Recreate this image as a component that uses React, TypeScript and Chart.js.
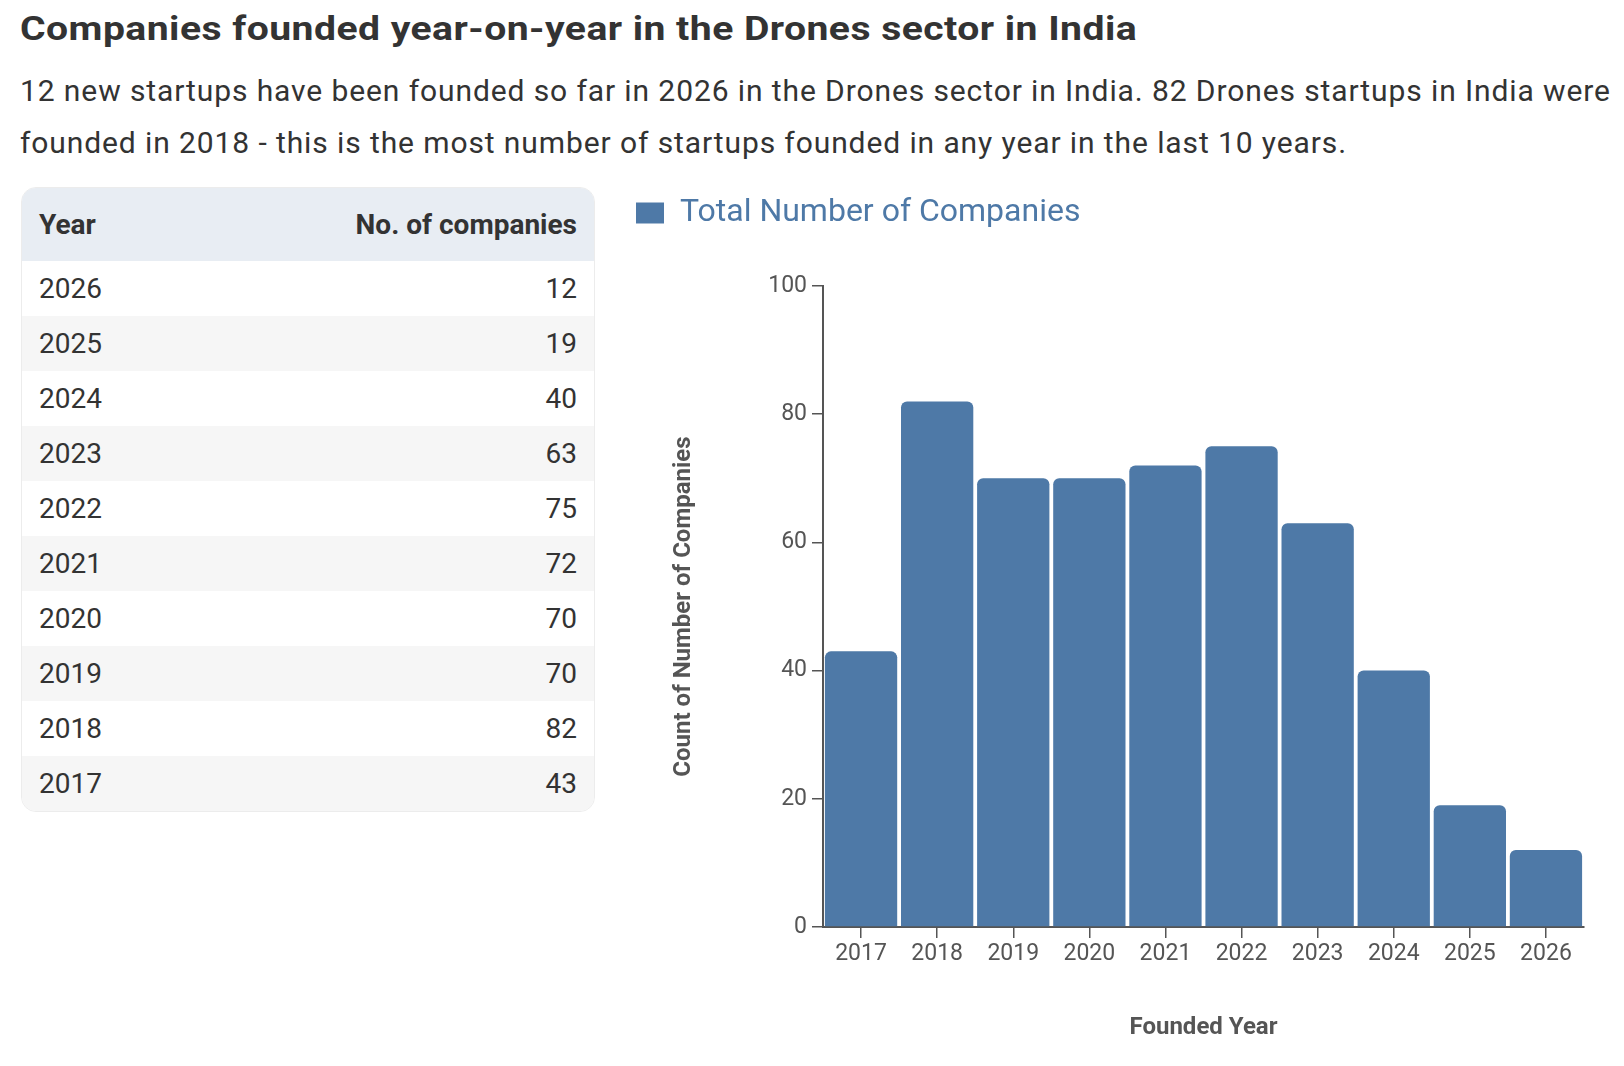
import React, { useEffect, useRef } from "react";
import { Chart, registerables } from "chart.js";

Chart.register(...registerables);

const years = ["2017", "2018", "2019", "2020", "2021", "2022", "2023", "2024", "2025", "2026"];
const companies = [43, 82, 70, 70, 72, 75, 63, 40, 19, 12];
const yTicks = { min: 0, max: 100, step: 20 };

const BLUE = "#4e79a7";
const AXIS = "#555555";

// push the plot down below the legend
const legendSpacer = {
  id: "legendSpacer",
  beforeInit(chart: any) {
    const fit = chart.legend.fit;
    chart.legend.fit = function () {
      fit.bind(chart.legend)();
      this.height += 47;
    };
  },
};

function FoundedChart() {
  const canvasRef = useRef<HTMLCanvasElement | null>(null);
  const chartRef = useRef<Chart | null>(null);

  useEffect(() => {
    if (!canvasRef.current) return;
    const ctx = canvasRef.current.getContext("2d");
    if (!ctx) return;
    if (chartRef.current) chartRef.current.destroy();

    Chart.defaults.font.family = "Roboto";

    chartRef.current = new Chart(ctx, {
      type: "bar",
      data: {
        labels: years,
        datasets: [
          {
            label: "Total Number of Companies",
            data: companies,
            backgroundColor: BLUE,
            borderWidth: 0,
            borderRadius: 6,
            borderSkipped: "start",
            barPercentage: 0.95,
            categoryPercentage: 1,
          },
        ],
      },
      options: {
        animation: false,
        responsive: true,
        maintainAspectRatio: false,
        layout: { padding: { top: 0, right: 32, bottom: 0, left: 0 } },
        plugins: {
          legend: {
            display: true,
            position: "top",
            align: "start",
            labels: {
              boxWidth: 28,
              boxHeight: 21,
              color: BLUE,
              font: { size: 32 },
              padding: 6,
            },
          },
          tooltip: { enabled: false },
        },
        scales: {
          x: {
            afterFit: (scale: any) => {
              scale.height = 131;
            },
            grid: {
              offset: false,
              drawOnChartArea: false,
              drawTicks: true,
              tickLength: 11,
              color: AXIS,
              lineWidth: 1.5,
            },
            border: { display: true, color: AXIS, width: 2 },
            ticks: { color: AXIS, font: { size: 23 }, padding: 2, maxRotation: 0 },
            title: {
              display: true,
              text: "Founded Year",
              color: AXIS,
              font: { size: 24, weight: "bold" },
              padding: { top: 0, bottom: 16 },
            },
          },
          y: {
            min: yTicks.min,
            max: yTicks.max,
            afterFit: (scale: any) => {
              scale.width = 193;
            },
            grid: {
              drawOnChartArea: false,
              drawTicks: true,
              tickLength: 11,
              color: AXIS,
              lineWidth: 1.5,
            },
            border: { display: true, color: AXIS, width: 2 },
            ticks: { stepSize: yTicks.step, color: AXIS, font: { size: 23 }, padding: 5 },
            title: {
              display: true,
              text: "Count of Number of Companies",
              color: AXIS,
              font: { size: 24, weight: "bold" },
              padding: { top: 40, bottom: 0 },
            },
          },
        },
      },
      plugins: [legendSpacer],
    });

    return () => {
      if (chartRef.current) {
        chartRef.current.destroy();
        chartRef.current = null;
      }
    };
  }, []);

  return <canvas ref={canvasRef} />;
}

function YearTable() {
  const rows = years.map((y, i) => ({ year: y, count: companies[i] })).reverse();
  const cell: React.CSSProperties = { padding: "0 17px", fontSize: 28 };
  return (
    <div
      style={{
        position: "absolute",
        left: 13,
        top: 179,
        width: 574,
        border: "1px solid #ececec",
        borderRadius: 15,
        overflow: "hidden",
        boxSizing: "border-box",
      }}
    >
      <table style={{ width: "100%", borderCollapse: "collapse", color: "#333" }}>
        <thead>
          <tr style={{ background: "#e8edf3", height: 73 }}>
            <th style={{ ...cell, textAlign: "left", fontWeight: 700 }}>Year</th>
            <th style={{ ...cell, textAlign: "right", fontWeight: 700 }}>No. of companies</th>
          </tr>
        </thead>
        <tbody>
          {rows.map((r, i) => (
            <tr key={r.year} style={{ background: i % 2 === 0 ? "#ffffff" : "#f6f6f6", height: 55 }}>
              <td style={{ ...cell, textAlign: "left" }}>{r.year}</td>
              <td style={{ ...cell, textAlign: "right" }}>{r.count}</td>
            </tr>
          ))}
        </tbody>
      </table>
    </div>
  );
}

export default function App() {
  return (
    <div
      style={{
        position: "relative",
        width: 1608,
        height: 1050,
        fontFamily: "Roboto, sans-serif",
        color: "#333",
      }}
    >
      <div
        style={{
          position: "absolute",
          left: 12,
          top: 0,
          fontSize: 34,
          fontWeight: 700,
          lineHeight: "40px",
          letterSpacing: 0.4,
          whiteSpace: "nowrap",
          transform: "scaleX(1.15)",
          transformOrigin: "left center",
        }}
      >
        Companies founded year-on-year in the Drones sector in India
      </div>
      <div
        style={{
          position: "absolute",
          left: 12,
          top: 57,
          width: 1604,
          fontSize: 30,
          letterSpacing: 0.9,
          lineHeight: "52px",
        }}
      >
        12 new startups have been founded so far in 2026 in the Drones sector in India. 82 Drones startups in India
        were founded in 2018 - this is the most number of startups founded in any year in the last 10 years.
      </div>
      <YearTable />
      <div style={{ position: "absolute", left: 622, top: 183, width: 986, height: 867 }}>
        <FoundedChart />
      </div>
    </div>
  );
}
